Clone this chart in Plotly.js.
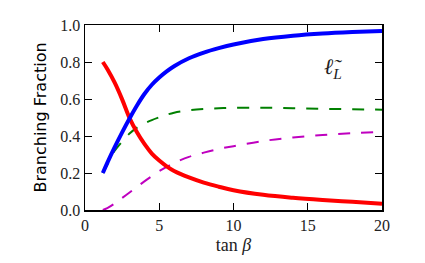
<!DOCTYPE html>
<html>
<head>
<meta charset="utf-8">
<script src="https://cdn.plot.ly/plotly-3.0.1.min.js"></script>
<style>html,body{margin:0;padding:0;background:#fff;}#chart{width:425px;height:263px;}</style>
</head>
<body>
<div id="chart"></div>
<script>
const tanBeta = [1.2, 1.5, 2, 2.5, 3, 3.5, 4, 4.5, 5, 5.5, 6, 7, 8, 9, 10, 12, 14, 16, 18, 20];
const blueBF  = [0.20, 0.255, 0.34, 0.42, 0.495, 0.565, 0.627, 0.677, 0.716, 0.749, 0.777, 0.82, 0.851, 0.875, 0.895, 0.924, 0.942, 0.954, 0.962, 0.968];
const redBF   = [0.80, 0.762, 0.688, 0.598, 0.497, 0.42, 0.357, 0.305, 0.267, 0.236, 0.211, 0.176, 0.148, 0.126, 0.107, 0.082, 0.066, 0.054, 0.044, 0.034];
const greenBF = [0.20, 0.245, 0.32, 0.37, 0.413, 0.445, 0.468, 0.486, 0.501, 0.515, 0.526, 0.539, 0.546, 0.55, 0.552, 0.553, 0.55, 0.547, 0.545, 0.542];
const magentaBF = [0.0, 0.01, 0.035, 0.065, 0.095, 0.125, 0.155, 0.183, 0.21, 0.233, 0.254, 0.287, 0.31, 0.33, 0.345, 0.373, 0.392, 0.405, 0.415, 0.423];
const xTicks = [0, 5, 10, 15, 20];
const yTicks = [0.0, 0.2, 0.4, 0.6, 0.8, 1.0];
const labelText = '<i>ℓ̃</i><sub><i>L</i></sub>';

const traces = [
  {x: tanBeta, y: greenBF, mode: 'lines', line: {color: '#008000', width: 2, dash: '12px,11px', shape: 'spline'}},
  {x: tanBeta, y: magentaBF, mode: 'lines', line: {color: '#bf00bf', width: 2, dash: '12px,11px', shape: 'spline'}},
  {x: tanBeta, y: redBF, mode: 'lines', line: {color: '#ff0000', width: 4, shape: 'spline'}},
  {x: tanBeta, y: blueBF, mode: 'lines', line: {color: '#0000ff', width: 4, shape: 'spline'}}
];
const axisCommon = {
  showgrid: false, zeroline: false, showline: true, linecolor: '#000', linewidth: 1.5,
  mirror: 'ticks', ticks: 'inside', ticklen: 7, tickwidth: 1, tickcolor: '#000',
  tickfont: {family: 'Liberation Serif, DejaVu Serif, serif', size: 16, color: '#222'}
};
const layout = {
  width: 425, height: 263,
  margin: {l: 85, r: 43, t: 25, b: 53, pad: 0},
  paper_bgcolor: '#fff', plot_bgcolor: '#fff',
  showlegend: false,
  xaxis: Object.assign({}, axisCommon, {
    range: [0, 20], tickvals: xTicks, ticktext: xTicks.map(String),
    title: {text: 'tan <i>β</i>', font: {family: 'Liberation Serif, DejaVu Serif, serif', size: 18, color: '#222'}, standoff: 5}
  }),
  yaxis: Object.assign({}, axisCommon, {
    range: [0, 1], tickvals: yTicks, ticktext: yTicks.map(v => v.toFixed(1)),
    title: {text: 'Branching Fraction', font: {family: 'DejaVu Sans, sans-serif', size: 16, color: '#000'}, standoff: 9}
  }),
  annotations: [{
    x: 16.7, y: 0.77, xref: 'x', yref: 'y', text: labelText, showarrow: false,
    font: {family: 'Liberation Serif, DejaVu Serif, serif', size: 22, color: '#222'}
  }]
};
Plotly.newPlot('chart', traces, layout, {displayModeBar: false, staticPlot: true});
</script>
</body>
</html>
